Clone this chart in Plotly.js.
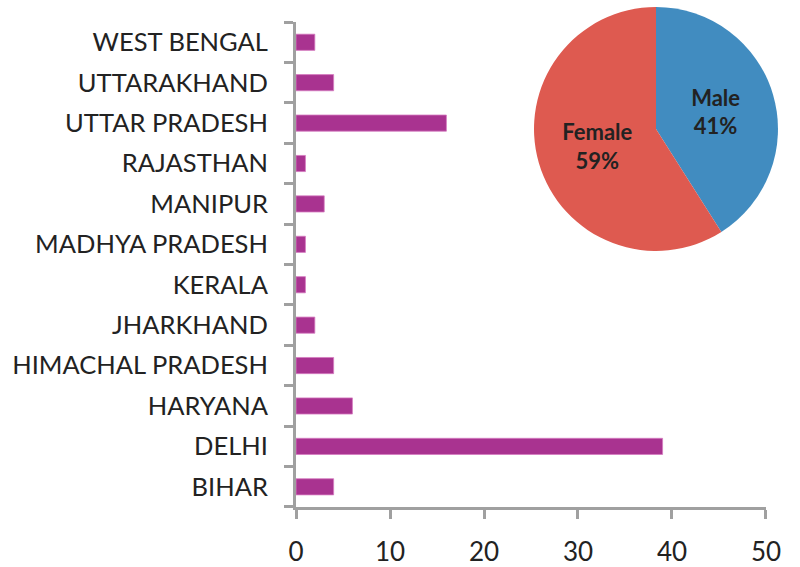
<!DOCTYPE html>
<html>
<head>
<meta charset="utf-8">
<script src="https://cdn.plot.ly/plotly-3.0.1.min.js"></script>
<style>html,body{margin:0;padding:0;background:#fff;}#chart{width:800px;height:567px;}</style>
</head>
<body>
<div id="chart"></div>
<script>
const states = ["BIHAR","DELHI","HARYANA","HIMACHAL PRADESH","JHARKHAND","KERALA","MADHYA PRADESH","MANIPUR","RAJASTHAN","UTTAR PRADESH","UTTARAKHAND","WEST BENGAL"];
const counts = [4, 39, 6, 4, 2, 1, 1, 3, 1, 16, 4, 2];
const genderLabels = ["Male", "Female"];
const genderShares = [41, 59];
const xTicks = [0, 10, 20, 30, 40, 50];

const font = "Lato, 'Open Sans', sans-serif";

const data = [
  {
    type: "bar",
    orientation: "h",
    y: states,
    x: counts,
    marker: {color: "#A93390", line: {color: "#D67BC0", width: 0.8}},
    hoverinfo: "x+y",
    xaxis: "x",
    yaxis: "y"
  },
  {
    type: "pie",
    labels: genderLabels,
    values: genderShares,
    sort: false,
    direction: "clockwise",
    rotation: 0,
    marker: {colors: ["#418CC0", "#DE5A50"]},
    texttemplate: "%{label}<br>%{percent:.0%}",
    textposition: "inside",
    insidetextorientation: "horizontal",
    textfont: {family: font, size: 22, color: "#222222", weight: "bold"},
    showlegend: false,
    domain: {x: [0.6718, 0.9846], y: [0.51, 0.996]}
  }
];

const layout = {
  width: 800,
  height: 567,
  margin: {l: 10, r: 10, t: 5, b: 60},
  paper_bgcolor: "#ffffff",
  plot_bgcolor: "#ffffff",
  showlegend: false,
  bargap: 0.6,
  font: {family: font, color: "#222222"},
  xaxis: {
    domain: [0.3667, 0.9692],
    range: [0, 50],
    tickvals: xTicks,
    ticktext: xTicks.map(String),
    showgrid: false,
    zeroline: false,
    showline: true,
    linecolor: "#A0A0A0",
    linewidth: 3,
    ticks: "outside",
    ticklen: 9,
    tickwidth: 3,
    tickcolor: "#A0A0A0",
    ticklabelstandoff: 11,
    tickfont: {family: font, size: 26, color: "#222222"},
    fixedrange: true
  },
  yaxis: {
    domain: [0, 0.966],
    type: "category",
    categoryorder: "array",
    categoryarray: states,
    showgrid: false,
    zeroline: false,
    showline: true,
    linecolor: "#A0A0A0",
    linewidth: 3,
    ticks: "outside",
    tickson: "boundaries",
    ticklen: 9,
    tickwidth: 3,
    tickcolor: "#A0A0A0",
    ticklabelstandoff: 20,
    tickfont: {family: font, size: 25.5, color: "#222222"},
    automargin: false,
    fixedrange: true
  }
};

Plotly.newPlot("chart", data, layout, {displayModeBar: false, staticPlot: true});
</script>
</body>
</html>
